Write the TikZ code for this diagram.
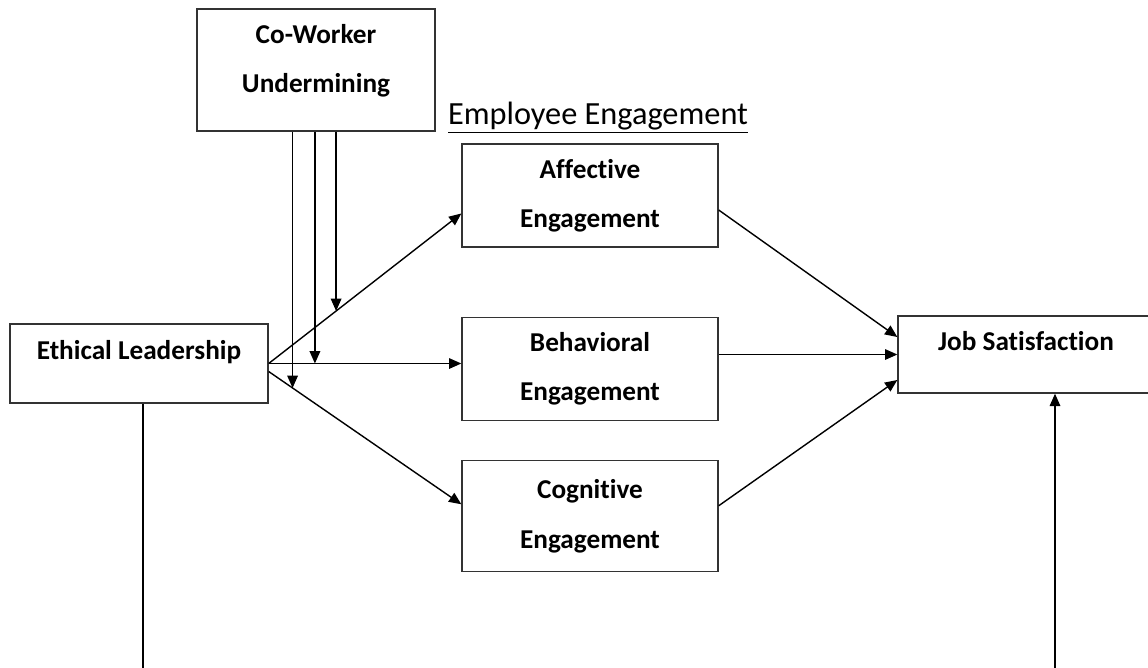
\documentclass[tikz,border=0pt]{standalone}
\usepackage{fontspec}
\setmainfont{Carlito}[Ligatures=NoCommon]
\usetikzlibrary{arrows.meta,positioning}

\begin{document}
\begin{tikzpicture}[x=0.02cm,y=-0.02cm,>={Triangle[length=7pt,width=6pt]},
    line width=0.8pt,node distance=1.38cm,
    box node/.style={rectangle,draw=black!80,minimum width=5.12cm,minimum height=2.06cm,
      align=center,font=\bfseries\fontsize{15.5}{28}\selectfont},
    top node/.style={box node,text height=11pt,text depth=16pt}]

  \useasboundingbox (0,0) rectangle (1148,667);

  \node[top node,minimum width=5.16cm,minimum height=1.58cm] (el) at (139,363.5) {Ethical Leadership};
  \node[box node,minimum width=4.76cm,minimum height=2.44cm,text depth=13pt] (cw) at (316,70) {Co-Worker\\Undermining};
  \node[box node] (aff) at (590,195.5) {Affective\\Engagement};
  \node[box node] (beh) [below=of aff] {Behavioral\\Engagement};
  \node[box node,minimum height=2.22cm] (cog) [below=0.78cm of beh] {Cognitive\\Engagement};
  \node[top node,minimum height=1.54cm] (js) at (1026,354.5) {Job Satisfaction};
  \node[font=\fontsize{18.4}{22}\selectfont] (ee) at (598,118) {\underline{Employee Engagement}};

  % ethical leadership -> engagement
  \draw[->] (el.east) -- coordinate[pos=0.35] (m3) ([yshift=-0.36cm]aff.west);
  \draw[->] (el.east) -- coordinate[pos=0.24] (m2) (el.east -| beh.west);
  \draw[->] ([yshift=-0.16cm]el.east) -- coordinate[pos=0.124] (m1) ([yshift=0.24cm]cog.west);

  % moderation by undermining
  \foreach \m in {m1,m2,m3}
    \draw[->] (cw.south -| \m) -- (\m);

  % engagement -> job satisfaction
  \draw[->] ([yshift=-0.29cm]aff.east) -- ([yshift=0.35cm]js.west);
  \draw[->] (beh.east |- js.west) -- (js.west);
  \draw[->] ([yshift=0.21cm]cog.east) -- ([yshift=-0.51cm]js.west);

  % direct path, runs below the page edge
  \coordinate (low) at (143,700);
  \draw[->] (el.south -| low) -- (low) -| ([xshift=0.58cm]js.south);

\end{tikzpicture}
\end{document}
